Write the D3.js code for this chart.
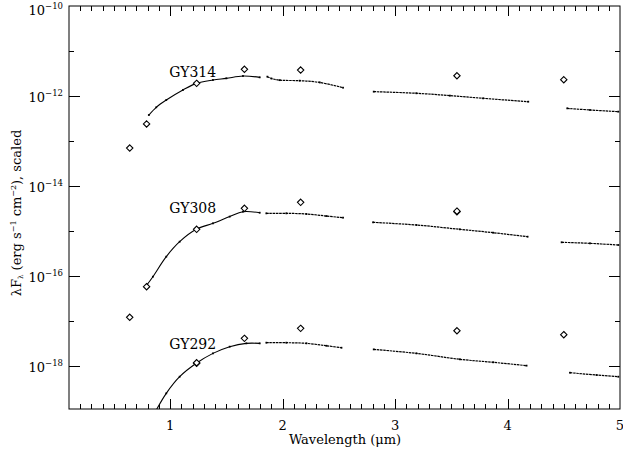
<!DOCTYPE html>
<html>
<head>
<meta charset="utf-8">
<script src="https://cdn.jsdelivr.net/npm/d3@7"></script>
<style>
  html, body { margin: 0; padding: 0; background: #fff; }
  svg { display: block; font-family: "DejaVu Serif", serif; }
</style>
</head>
<body>
<svg id="chart" width="623" height="450"></svg>
<script>
// Photometry, λF_λ (scaled): [λ (μm), flux]
const photGY314 = [[0.64, 6.98e-14], [0.79, 2.39e-13], [1.235, 1.91e-12], [1.66, 3.92e-12], [2.16, 3.78e-12], [3.55, 2.82e-12], [4.5, 2.30e-12]];
const photGY308 = [[0.79, 5.79e-17], [1.235, 1.09e-15], [1.66, 3.19e-15], [2.16, 4.34e-15], [3.55, 2.69e-15], [3.55, 2.76e-15]];
const photGY292 = [[0.64, 1.21e-17], [1.235, 1.15e-18], [1.235, 1.18e-18], [1.66, 4.12e-18], [2.16, 6.87e-18], [3.55, 6.08e-18], [4.5, 4.97e-18]];

// Spectra, split at the telluric gaps: [λ, λF_λ]
const specGY314 = [
  [[0.81, 3.78e-13], [0.876, 5.61e-13], [0.965, 8.15e-13], [1.113, 1.36e-12], [1.232, 1.91e-12], [1.38, 2.27e-12], [1.499, 2.47e-12], [1.647, 2.78e-12], [1.796, 2.60e-12]],
  [[1.864, 2.69e-12], [1.9, 2.45e-12], [1.974, 2.25e-12], [2.152, 2.19e-12], [2.33, 2.00e-12], [2.537, 1.53e-12]],
  [[2.81, 1.25e-12], [3.19, 1.15e-12], [3.487, 1.02e-12], [3.783, 8.87e-13], [4.184, 7.48e-13]],
  [[4.531, 5.32e-13], [4.733, 4.89e-13], [4.985, 4.49e-13]]
];
const specGY308 = [
  [[0.781, 5.79e-17], [0.846, 9.66e-17], [0.965, 2.69e-16], [1.084, 5.79e-16], [1.232, 1.09e-15], [1.38, 1.48e-15], [1.529, 2.09e-15], [1.647, 2.69e-15], [1.796, 2.55e-15]],
  [[1.855, 2.47e-15], [2.033, 2.47e-15], [2.211, 2.39e-15], [2.389, 2.15e-15], [2.537, 1.98e-15]],
  [[2.804, 1.56e-15], [3.19, 1.36e-15], [3.576, 1.09e-15], [3.872, 9.18e-16], [4.178, 7.48e-16]],
  [[4.481, 5.61e-16], [4.733, 5.32e-16], [4.985, 4.89e-16]]
];
const specGY292 = [
  [[0.876, 1.05e-19], [0.965, 2.47e-19], [1.084, 5.79e-19], [1.232, 1.15e-18], [1.38, 1.91e-18], [1.529, 2.69e-18], [1.677, 3.19e-18], [1.796, 3.19e-18]],
  [[1.855, 3.30e-18], [2.033, 3.30e-18], [2.211, 3.19e-18], [2.389, 2.82e-18], [2.523, 2.55e-18]],
  [[2.81, 2.34e-18], [3.19, 1.91e-18], [3.576, 1.41e-18], [3.872, 1.21e-18], [4.169, 1.02e-18]],
  [[4.555, 7.10e-19], [4.792, 6.31e-19], [4.985, 5.79e-19]]
];

const sourceNames = ["GY314", "GY308", "GY292"];
const sourceLabelAt = [[1.0, 2.6e-12], [1.0, 2.5e-15], [1.0, 2.4e-18]];

const xTickLabels = [1, 2, 3, 4, 5];
const yTickExponents = [-10, -12, -14, -16, -18];

const sources = [
  { name: sourceNames[0], phot: photGY314, spec: specGY314, label: sourceLabelAt[0] },
  { name: sourceNames[1], phot: photGY308, spec: specGY308, label: sourceLabelAt[1] },
  { name: sourceNames[2], phot: photGY292, spec: specGY292, label: sourceLabelAt[2] }
];

const svg = d3.select("#chart");
const M = { left: 69, right: 620, top: 6, bottom: 409 };

const x = d3.scaleLinear().domain([0.1, 5]).range([M.left, M.right]);
const y = d3.scaleLog().domain([Math.pow(10, -18.955), 1e-10]).range([M.bottom, M.top]);

svg.append("defs").append("clipPath").attr("id", "plotclip")
  .append("rect").attr("x", M.left).attr("y", M.top)
  .attr("width", M.right - M.left).attr("height", M.bottom - M.top);

const plot = svg.append("g").attr("clip-path", "url(#plotclip)");

const line = d3.line().x(d => x(d[0])).y(d => y(d[1])).curve(d3.curveCatmullRom.alpha(0.5));

sources.forEach(src => {
  src.spec.forEach((seg, i) => {
    // model + spectrum trace
    plot.append("path").datum(seg)
      .attr("d", line)
      .attr("fill", "none")
      .attr("stroke", "#000")
      .attr("stroke-width", i === 0 ? 1.1 : 1.2)
      .attr("stroke-dasharray", i === 0 ? null : "2.5,0.7");
    // sampled spectral points
    plot.selectAll(null).data(seg).enter().append("rect")
      .attr("x", d => x(d[0]) - 0.9).attr("y", d => y(d[1]) - 0.9)
      .attr("width", 1.8).attr("height", 1.8).attr("fill", "#000");
  });
  const diamond = d3.symbol().type(d3.symbolDiamond2).size(26);
  plot.selectAll(null).data(src.phot).enter().append("path")
    .attr("d", diamond)
    .attr("transform", d => `translate(${x(d[0])},${y(d[1])})`)
    .attr("fill", "#fff").attr("stroke", "#000").attr("stroke-width", 1.1);
  svg.append("text")
    .attr("x", x(src.label[0]) - 1).attr("y", y(src.label[1]))
    .attr("font-size", 14).attr("fill", "#000")
    .text(src.name);
});

// Frame
svg.append("rect").attr("x", M.left).attr("y", M.top)
  .attr("width", M.right - M.left).attr("height", M.bottom - M.top)
  .attr("fill", "none").attr("stroke", "#000").attr("stroke-width", 1);

// X ticks (bottom and top)
const xMinor = d3.range(2, 50).map(i => i / 10);
const ticksG = svg.append("g").attr("stroke", "#000").attr("stroke-width", 1);
xMinor.forEach(v => {
  const major = Math.abs(v - Math.round(v)) < 1e-9;
  const len = major ? 10 : 5;
  const px = Math.round(x(v)) + 0.5;
  ticksG.append("line").attr("x1", px).attr("x2", px).attr("y1", M.bottom).attr("y2", M.bottom - len);
  ticksG.append("line").attr("x1", px).attr("x2", px).attr("y1", M.top).attr("y2", M.top + len);
});
// Y ticks (left and right)
d3.range(-18, -10).forEach(e => {
  const major = e % 2 === 0;
  const len = major ? 11 : 5;
  const py = Math.round(y(Math.pow(10, e))) + 0.5;
  ticksG.append("line").attr("x1", M.left).attr("x2", M.left + len).attr("y1", py).attr("y2", py);
  ticksG.append("line").attr("x1", M.right).attr("x2", M.right - len).attr("y1", py).attr("y2", py);
});

// X tick labels
svg.selectAll(null).data(xTickLabels).enter().append("text")
  .attr("x", d => x(d)).attr("y", 430)
  .attr("text-anchor", "middle").attr("font-size", 13).attr("fill", "#000")
  .text(d => d);

// Y tick labels: 10 with superscript exponent (top one nudged down to stay inside)
yTickExponents.forEach(e => {
  const t = svg.append("text")
    .attr("x", M.left - 6).attr("y", y(Math.pow(10, e)) + (e === -10 ? 9 : 6))
    .attr("text-anchor", "end").attr("font-size", 13).attr("fill", "#000");
  t.append("tspan").text("10");
  t.append("tspan").attr("dy", -6).attr("font-size", 8.5).text("\u2212" + Math.abs(e));
});

// Axis titles
svg.append("text")
  .attr("x", 345).attr("y", 444)
  .attr("text-anchor", "middle").attr("font-size", 13).attr("fill", "#000")
  .text("Wavelength (\u03bcm)");

const yt = svg.append("text")
  .attr("transform", "translate(21,213) rotate(-90)")
  .attr("text-anchor", "middle").attr("font-size", 13).attr("fill", "#000");
yt.append("tspan").text("\u03bbF");
yt.append("tspan").attr("dy", 2).attr("font-size", 7).text("\u03bb");
yt.append("tspan").attr("dy", -2).text(" (erg s");
yt.append("tspan").attr("dy", -5).attr("font-size", 8).text("\u22121");
yt.append("tspan").attr("dy", 5).text(" cm");
yt.append("tspan").attr("dy", -5).attr("font-size", 8).text("\u22122");
yt.append("tspan").attr("dy", 5).text("), scaled");
</script>
</body>
</html>
